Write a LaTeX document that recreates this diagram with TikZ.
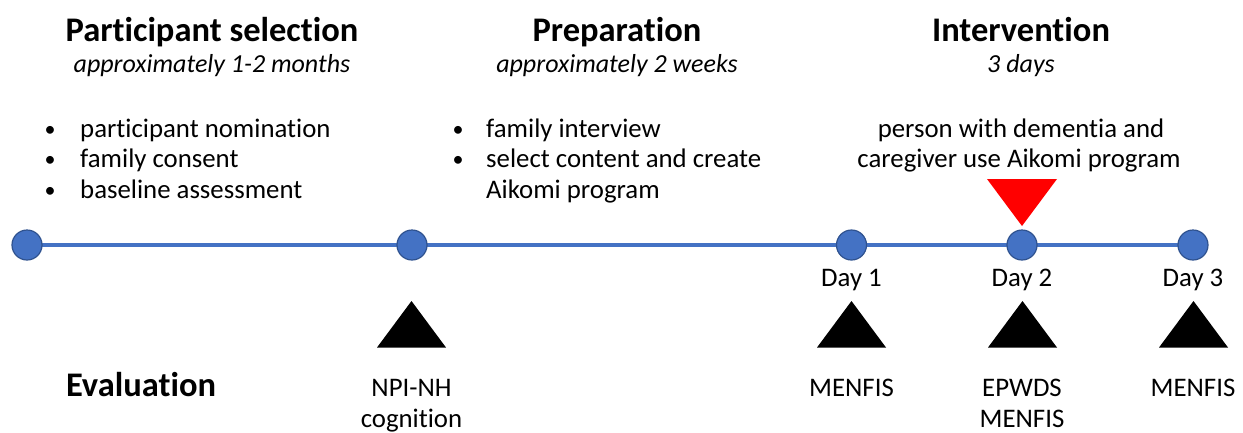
\documentclass[tikz,border=0pt]{standalone}
\usepackage{fontspec}
\setmainfont[Ligatures=NoCommon]{Carlito}
\usetikzlibrary{backgrounds}
\definecolor{tlblue}{HTML}{4472C4}
\definecolor{tledge}{HTML}{2F528F}
\begin{document}
\begin{tikzpicture}[x=1pt,y=-1pt,
  ttl/.style={anchor=base,inner sep=0pt,font=\fontsize{34.5}{40}\selectfont\bfseries},
  sub/.style={anchor=base,inner sep=0pt,font=\fontsize{26}{31}\selectfont\itshape},
  body/.style={anchor=base,inner sep=0pt,font=\fontsize{26.8}{32}\selectfont},
  bodyw/.style={anchor=base west,inner sep=0pt,font=\fontsize{26.8}{32}\selectfont},
  bul/.style={anchor=base,inner sep=0pt,font=\fontsize{22}{26}\selectfont},
  dot/.style={circle,fill=tlblue,draw=tledge,line width=1.2pt,minimum size=30pt,inner sep=0pt},
  evaltri/.style={fill=black},
  cue/.style={fill=red}]
\useasboundingbox (0,0) rectangle (1243,432);
% titles
\node[ttl] (t1) at (212,41) {Participant selection};
\node[sub] (s1) at (212,72) {approximately 1-2 months};
\node[ttl] (t2) at (617,41) {Preparation};
\node[sub] (s2) at (617,72) {approximately 2 weeks};
\node[ttl] (t3) at (1021,41) {Intervention};
\node[sub] (s3) at (1021,72) {3 days};
% left list
\node[bul] (b11) at (50,136) {\textbullet};
\node[bodyw] (l11) at (80,137) {participant nomination};
\node[bul] (b12) at (50,166) {\textbullet};
\node[bodyw] (l12) at (80,167) {family consent};
\node[bul] (b13) at (50,197) {\textbullet};
\node[bodyw] (l13) at (80,198) {baseline assessment};
% middle list
\node[bul] (b21) at (458,136) {\textbullet};
\node[bodyw] (l21) at (486,137) {family interview};
\node[bul] (b22) at (458,166) {\textbullet};
\node[bodyw] (l22) at (486,167) {select content and create};
\node[bodyw] (l23) at (486,198) {Aikomi program};
% intervention text
\node[body] (i1) at (1021,137) {person with dementia and};
\node[body] (i2) at (1019,167) {caregiver use Aikomi program};
% timeline dots
\node[dot] (c1) at (27,245) {};
\node[dot] (c2) at (412,245) {};
\node[dot] (c3) at (851.5,245) {};
\node[dot] (c4) at (1022,245) {};
\node[dot] (c5) at (1193,245) {};
\begin{scope}[on background layer]
\draw[tlblue,line width=3.5pt] (c1.center) -- (c5.center);
\end{scope}
% red cue triangle
\fill[cue] (987,179) -- (1057,179) -- (1022,226) -- cycle;
% day labels
\node[body] (d1) at (851.5,286) {Day 1};
\node[body] (d2) at (1022,286) {Day 2};
\node[body] (d3) at (1193,286) {Day 3};
% evaluation triangles
\fill[evaltri] (377,347.5) -- (446,347.5) -- (411.5,301) -- cycle;
\fill[evaltri] (817,347.5) -- (886,347.5) -- (851.5,301) -- cycle;
\fill[evaltri] (988,347.5) -- (1057,347.5) -- (1022.5,301) -- cycle;
\fill[evaltri] (1159,347.5) -- (1228,347.5) -- (1193.5,301) -- cycle;
% evaluation labels
\node[ttl] (ev) at (141,396) {Evaluation};
\node[body] (e1a) at (411.5,396) {NPI-NH};
\node[body] (e1b) at (411.5,427) {cognition};
\node[body] (e2) at (851.5,396) {MENFIS};
\node[body] (e3a) at (1022,396) {EPWDS};
\node[body] (e3b) at (1022,427) {MENFIS};
\node[body] (e4) at (1193,396) {MENFIS};
\end{tikzpicture}
\end{document}
